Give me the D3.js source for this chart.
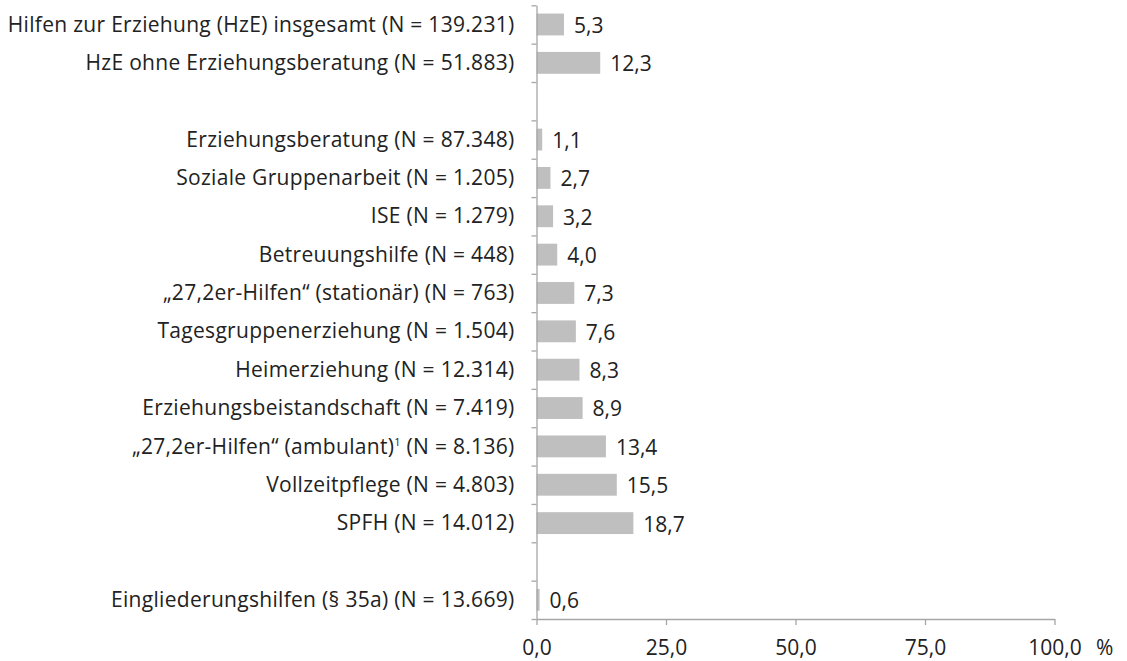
<!DOCTYPE html>
<html>
<head>
<meta charset="utf-8">
<script src="https://cdn.jsdelivr.net/npm/d3@7"></script>
<style>
  body { margin: 0; background: #fff; }
  svg { display: block; }
  text { font-family: "Open Sans", Lato, sans-serif; fill: #222; }
</style>
</head>
<body>
<svg id="chart" width="1127" height="661"></svg>
<script>
// rows from top to bottom, null = empty slot between groups
var categories = [
    'Hilfen zur Erziehung (HzE) insgesamt (N = 139.231)',
    'HzE ohne Erziehungsberatung (N = 51.883)',
    null,
    'Erziehungsberatung (N = 87.348)',
    'Soziale Gruppenarbeit (N = 1.205)',
    'ISE (N = 1.279)',
    'Betreuungshilfe (N = 448)',
    '„27,2er-Hilfen“ (stationär) (N = 763)',
    'Tagesgruppenerziehung (N = 1.504)',
    'Heimerziehung (N = 12.314)',
    'Erziehungsbeistandschaft (N = 7.419)',
    '„27,2er-Hilfen“ (ambulant)¹ (N = 8.136)',
    'Vollzeitpflege (N = 4.803)',
    'SPFH (N = 14.012)',
    null,
    'Eingliederungshilfen (§ 35a) (N = 13.669)'
];
var values = [5.3, 12.3, null, 1.1, 2.7, 3.2, 4.0, 7.3, 7.6, 8.3, 8.9, 13.4, 15.5, 18.7, null, 0.6];
var xTicks = [0, 25, 50, 75, 100];
var unitLabel = '%';

var de = d3.formatLocale({decimal: ',', thousands: '.', grouping: [3], currency: ['', ' €']});
var fmt = de.format('.1f');

var svg = d3.select('#chart');
// note: "top" is taken by window.top, so own names here
var plotLeft = 536.5, plotRight = 1054.5, plotTop = 5.3, plotBottom = 619;
var fontSize = '21px';

var x = d3.scaleLinear().domain([0, 100]).range([plotLeft, plotRight]);
var y = d3.scaleBand()
    .domain(d3.range(categories.length))
    .range([plotTop, plotBottom])
    .paddingInner(0.43)
    .paddingOuter(0.215);
// boundaries of the slots, for the tick marks on the vertical axis
var yEdge = d3.scaleLinear().domain([0, categories.length]).range([plotTop, plotBottom]);

var rows = categories.map(function(d, i) { return {label: d, value: values[i], i: i}; })
    .filter(function(d) { return d.label !== null; });

// bars
svg.append('g')
    .selectAll('rect')
    .data(rows)
    .enter()
    .append('rect')
    .attr('x', x(0))
    .attr('y', function(d) { return y(d.i); })
    .attr('width', function(d) { return x(d.value) - x(0); })
    .attr('height', y.bandwidth())
    .attr('fill', '#bfbfbf');

// x axis
var gx = svg.append('g')
    .attr('transform', 'translate(0,' + plotBottom + ')')
    .call(d3.axisBottom(x).tickValues(xTicks).tickFormat(fmt).tickSize(6).tickSizeOuter(0).tickPadding(15));
gx.selectAll('text').style('font-size', fontSize).attr('fill', '#222');

// y axis (ticks between the slots)
var gy = svg.append('g')
    .attr('transform', 'translate(' + plotLeft + ',0)')
    .call(d3.axisLeft(yEdge).tickValues(d3.range(categories.length + 1)).tickFormat('').tickSize(5).tickSizeOuter(0));

svg.selectAll('.domain, .tick line').attr('stroke', '#a6a6a6').attr('stroke-width', 1.3);

svg.append('text')
    .attr('x', 1096)
    .attr('y', plotBottom + 36)
    .style('font-size', fontSize)
    .text(unitLabel);

// category labels
var labels = svg.append('g')
    .selectAll('text')
    .data(rows)
    .enter()
    .append('text')
    .attr('x', plotLeft - 22)
    .attr('y', function(d) { return y(d.i) + y.bandwidth() / 2; })
    .attr('dy', '0.34em')
    .attr('text-anchor', 'end')
    .style('font-size', fontSize)
    .style('letter-spacing', '0.3px');
labels.each(function(d) {
    var t = d3.select(this);
    var parts = d.label.split('¹');
    t.append('tspan').text(parts[0]);
    if (parts.length > 1) {
        t.append('tspan').attr('dy', '-8px').style('font-size', '11px').text('1');
        t.append('tspan').attr('dy', '8px').text(parts[1]);
    }
});

// value labels
svg.append('g')
    .selectAll('text')
    .data(rows)
    .enter()
    .append('text')
    .attr('x', function(d) { return x(d.value) + 10; })
    .attr('y', function(d) { return y(d.i) + y.bandwidth() / 2; })
    .attr('dy', '0.4em')
    .style('font-size', fontSize)
    .text(function(d) { return fmt(d.value); });
</script>
</body>
</html>
